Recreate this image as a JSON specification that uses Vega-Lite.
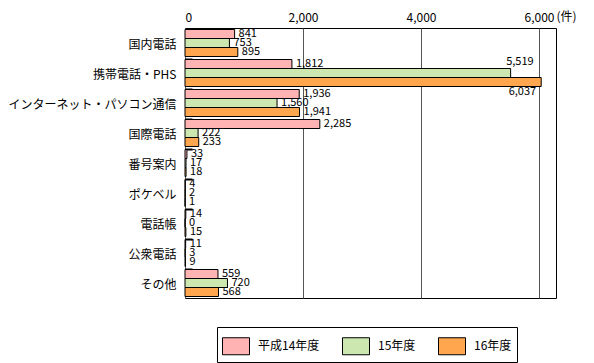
{
  "$schema": "https://vega.github.io/schema/vega-lite/v6.json",
  "width": 371,
  "height": 270,
  "autosize": {"type": "none"},
  "padding": {"left": 185, "top": 28, "right": 38, "bottom": 65},
  "background": "white",
  "config": {
    "font": "Noto Sans CJK JP",
    "view": {"stroke": "black", "strokeWidth": 1},
    "axis": {"labelFont": "Noto Sans CJK JP", "labelColor": "black"}
  },
  "data": {
    "values": [
      {"category": "国内電話", "year": "平成14年度", "value": 841},
      {"category": "国内電話", "year": "15年度", "value": 753},
      {"category": "国内電話", "year": "16年度", "value": 895},
      {"category": "携帯電話・PHS", "year": "平成14年度", "value": 1812},
      {"category": "携帯電話・PHS", "year": "15年度", "value": 5519},
      {"category": "携帯電話・PHS", "year": "16年度", "value": 6037},
      {"category": "インターネット・パソコン通信", "year": "平成14年度", "value": 1936},
      {"category": "インターネット・パソコン通信", "year": "15年度", "value": 1560},
      {"category": "インターネット・パソコン通信", "year": "16年度", "value": 1941},
      {"category": "国際電話", "year": "平成14年度", "value": 2285},
      {"category": "国際電話", "year": "15年度", "value": 222},
      {"category": "国際電話", "year": "16年度", "value": 233},
      {"category": "番号案内", "year": "平成14年度", "value": 33},
      {"category": "番号案内", "year": "15年度", "value": 17},
      {"category": "番号案内", "year": "16年度", "value": 18},
      {"category": "ポケベル", "year": "平成14年度", "value": 4},
      {"category": "ポケベル", "year": "15年度", "value": 2},
      {"category": "ポケベル", "year": "16年度", "value": 1},
      {"category": "電話帳", "year": "平成14年度", "value": 14},
      {"category": "電話帳", "year": "15年度", "value": 0},
      {"category": "電話帳", "year": "16年度", "value": 15},
      {"category": "公衆電話", "year": "平成14年度", "value": 11},
      {"category": "公衆電話", "year": "15年度", "value": 3},
      {"category": "公衆電話", "year": "16年度", "value": 9},
      {"category": "その他", "year": "平成14年度", "value": 559},
      {"category": "その他", "year": "15年度", "value": 720},
      {"category": "その他", "year": "16年度", "value": 568}
    ]
  },
  "encoding": {
    "y": {
      "field": "category",
      "type": "nominal",
      "sort": null,
      "scale": {"paddingInner": 0.1, "paddingOuter": 0.05},
      "axis": {
        "title": null,
        "domain": false,
        "bandPosition": 0,
        "tickSize": -7,
        "tickWidth": 2,
        "tickColor": "black",
        "labelPadding": 16,
        "labelFontSize": 12,
        "labelOffset": 2,
        "labelLimit": 300
      }
    },
    "yOffset": {
      "field": "year",
      "type": "nominal",
      "sort": ["平成14年度", "15年度", "16年度"]
    },
    "x": {
      "field": "value",
      "type": "quantitative",
      "scale": {"domain": [0, 6288], "nice": false},
      "axis": {
        "orient": "top",
        "values": [0, 2000, 4000, 6000],
        "labelExpr": "format(datum.value, ',')",
        "domain": false,
        "ticks": false,
        "grid": true,
        "gridColor": "#555555",
        "gridWidth": 1,
        "gridOpacity": 1,
        "labelFontSize": 12,
        "labelPadding": 4,
        "title": "(件)",
        "titleFontSize": 12,
        "titleFontWeight": "normal",
        "titleAlign": "left",
        "titleBaseline": "bottom",
        "titleAngle": 0,
        "titleX": 371,
        "titleY": -5
      }
    }
  },
  "layer": [
    {
      "mark": {"type": "bar", "stroke": "black", "strokeWidth": 1},
      "encoding": {
        "color": {
          "field": "year",
          "type": "nominal",
          "sort": ["平成14年度", "15年度", "16年度"],
          "scale": {
            "domain": ["平成14年度", "15年度", "16年度"],
            "range": ["#FFB3B3", "#CCE8B0", "#FFA64F"]
          },
          "legend": {
            "orient": "none",
            "direction": "horizontal",
            "legendX": 32,
            "legendY": 299,
            "title": null,
            "strokeColor": "black",
            "fillColor": "white",
            "padding": 5,
            "symbolType": "M-1,-0.63L1,-0.63L1,0.63L-1,0.63Z",
            "symbolSize": 729,
            "symbolStrokeColor": "black",
            "symbolStrokeWidth": 1,
            "symbolOpacity": 1,
            "labelFontSize": 12,
            "labelOffset": 8,
            "columnPadding": 20,
            "labelColor": "black"
          }
        }
      }
    },
    {
      "transform": [{"filter": "datum.value < 5000"}],
      "mark": {"type": "text", "align": "left", "baseline": "middle", "dx": 4, "fontSize": 11, "color": "black"},
      "encoding": {"text": {"field": "value", "type": "quantitative", "format": ","}}
    },
    {
      "transform": [{"filter": "datum.value == 5519"}],
      "mark": {"type": "text", "align": "right", "baseline": "middle", "dx": 23, "dy": -11, "fontSize": 11, "color": "black"},
      "encoding": {"text": {"field": "value", "type": "quantitative", "format": ","}}
    },
    {
      "transform": [{"filter": "datum.value == 6037"}],
      "mark": {"type": "text", "align": "right", "baseline": "middle", "dx": -5, "dy": 10, "fontSize": 11, "color": "black"},
      "encoding": {"text": {"field": "value", "type": "quantitative", "format": ","}}
    }
  ]
}
